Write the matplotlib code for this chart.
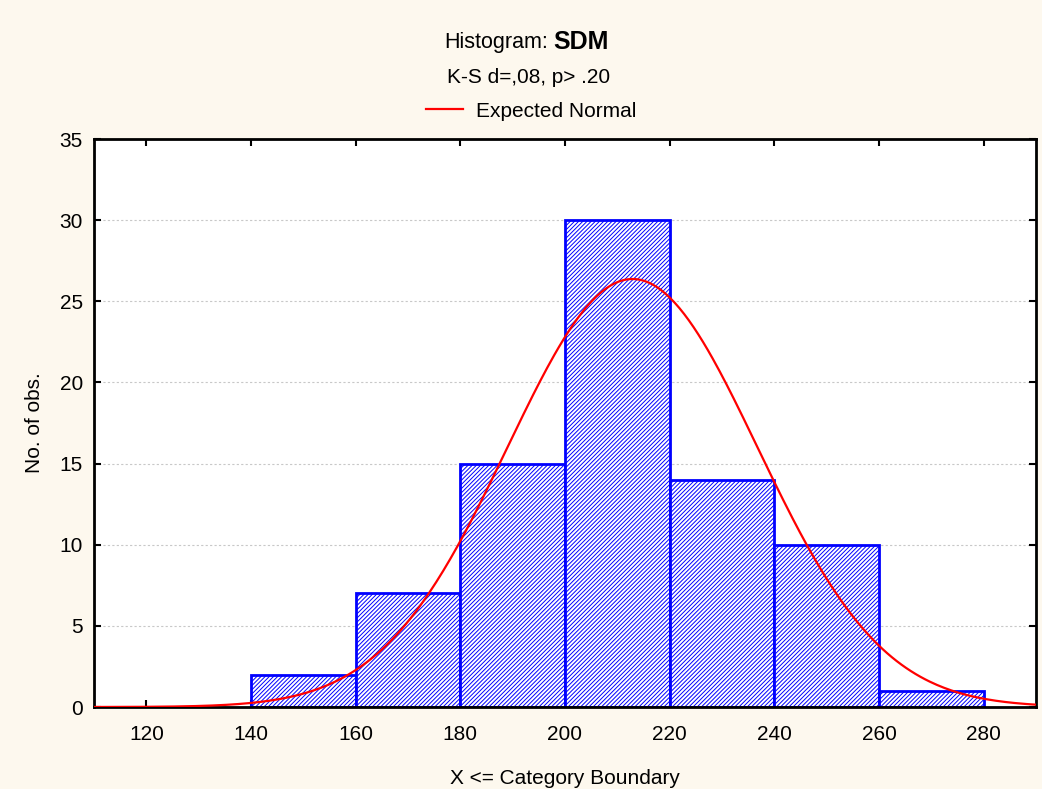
import matplotlib.pyplot as plt
import numpy as np

plt.rcParams["font.family"] = ["Liberation Sans", "DejaVu Sans"]
plt.rcParams["hatch.linewidth"] = 0.7
plt.rcParams["hatch.color"] = "#0000ff"

# histogram data
bin_edges = [140, 160, 180, 200, 220, 240, 260, 280]
counts = [2, 7, 15, 30, 14, 10, 1]
x_ticks = [120, 140, 160, 180, 200, 220, 240, 260, 280]
y_ticks = [0, 5, 10, 15, 20, 25, 30, 35]

# fitted normal parameters (estimated from the drawn curve)
mu = 212.9
sigma = 23.9

bg = "#fdf8ee"
fs = 15
fig = plt.figure(figsize=(10.42, 7.89), dpi=100, facecolor=bg)
ax = fig.add_axes([0.0902, 0.1039, 0.9040, 0.7199])

left = np.array(bin_edges[:-1])
widths = np.diff(bin_edges)
ax.bar(left, counts, width=widths, align="edge", facecolor="white",
       edgecolor="#0000ff", linewidth=2, hatch="////////", zorder=2)

n = sum(counts)
xs = np.linspace(110, 290, 400)
ys = n * widths[0] / (sigma * np.sqrt(2 * np.pi)) * np.exp(-0.5 * ((xs - mu) / sigma) ** 2)
line, = ax.plot(xs, ys, color="red", linewidth=1.6, zorder=3)

ax.set_xlim(110, 290)
ax.set_ylim(0, 35)
ax.set_xticks(x_ticks)
ax.set_yticks(y_ticks)
ax.yaxis.grid(True, linestyle=(0, (2, 2)), color="#c8c8c8", linewidth=0.8, zorder=0)
ax.set_axisbelow(True)
ax.tick_params(direction="in", top=True, right=True, labelsize=fs,
               length=5, width=1.5)
ax.tick_params(axis="x", pad=13)
ax.tick_params(axis="y", pad=8)
for s in ax.spines.values():
    s.set_linewidth(2)

ax.set_xlabel("X <= Category Boundary", fontsize=fs, labelpad=18)
ax.set_ylabel("No. of obs.", fontsize=fs, labelpad=11)

fig.text(0.5265, 0.946, "Histogram:", ha="right", va="center", fontsize=15.5)
fig.text(0.5310, 0.947, "SDM", ha="left", va="center", fontsize=18, fontweight="bold")
fig.text(0.507, 0.902, "K-S d=,08, p> .20", ha="center", va="center", fontsize=fs)
fig.legend([line], ["Expected Normal"], loc="center", bbox_to_anchor=(0.5096, 0.859),
           frameon=False, fontsize=fs, handlelength=1.8, handletextpad=0.6)

fig.savefig("out.png", dpi=100, facecolor=bg)
